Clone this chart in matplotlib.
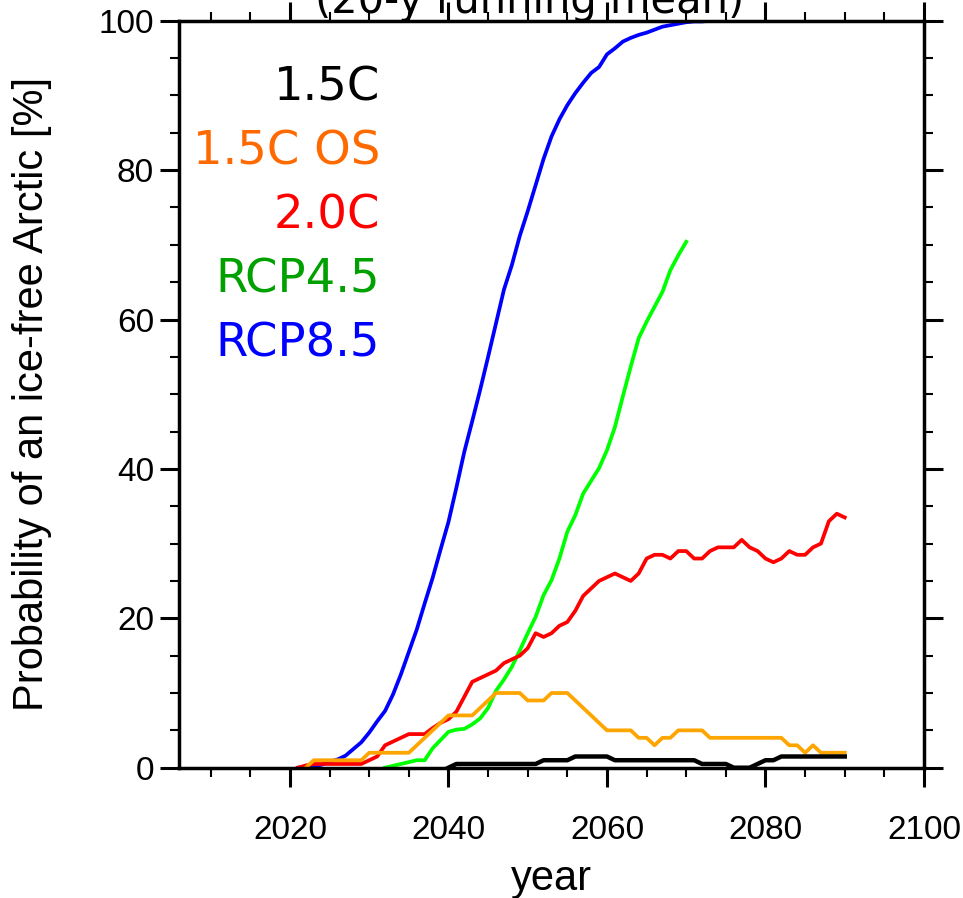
import matplotlib
matplotlib.use("Agg")
import matplotlib.pyplot as plt
import numpy as np
from matplotlib.ticker import MultipleLocator

# probability of an ice-free Arctic (%), 20-y running mean
years_15 = np.arange(2040, 2091)
p_15 = [0, 0.5, 0.5, 0.5, 0.5, 0.5, 0.5, 0.5, 0.5, 0.5, 0.5,
        0.5, 1.0, 1.0, 1.0, 1.0, 1.5, 1.5, 1.5, 1.5, 1.5,
        1.0, 1.0, 1.0, 1.0, 1.0, 1.0, 1.0, 1.0, 1.0, 1.0,
        1.0, 0.5, 0.5, 0.5, 0.5, 0, 0, 0, 0.5, 1.0,
        1.0, 1.5, 1.5, 1.5, 1.5, 1.5, 1.5, 1.5, 1.5, 1.5]

years_os = np.arange(2022, 2091)
p_os = [0, 1, 1, 1, 1, 1, 1, 1, 2, 2,
        2, 2, 2, 2, 3, 4, 5, 6, 7, 7,
        7, 7, 8, 9, 10, 10, 10, 10, 9, 9,
        9, 10, 10, 10, 9, 8, 7, 6, 5, 5,
        5, 5, 4, 4, 3, 4, 4, 5, 5, 5,
        5, 4, 4, 4, 4, 4, 4, 4, 4, 4,
        4, 3, 3, 2, 3, 2, 2, 2, 2]

years_20 = np.arange(2021, 2091)
p_20 = [0, 0.3, 0.5, 0.5, 0.5, 0.5, 0.5, 0.5, 0.5, 1.0,
        1.5, 3.0, 3.5, 4.0, 4.5, 4.5, 4.5, 5.3, 6.0, 6.5,
        7.5, 9.5, 11.5, 12.0, 12.5, 13.0, 14.0, 14.5, 15.0, 16.0,
        18.0, 17.5, 18.0, 19.0, 19.5, 21.0, 23.0, 24.0, 25.0, 25.5,
        26.0, 25.5, 25.0, 26.0, 28.0, 28.5, 28.5, 28.0, 29.0, 29.0,
        28.0, 28.0, 29.0, 29.5, 29.5, 29.5, 30.5, 29.5, 29.0, 28.0,
        27.5, 28.0, 29.0, 28.5, 28.5, 29.5, 30.0, 33.0, 34.0, 33.5]

years_45 = np.arange(2032, 2071)
p_45 = [0, 0.25, 0.5, 0.75, 1.0, 1.0, 2.6, 3.7, 4.8, 5.1,
        5.2, 5.8, 6.6, 8.0, 10.3, 11.8, 13.5, 15.7, 18.0, 20.2,
        23.1, 25.1, 28.0, 31.6, 33.8, 36.7, 38.4, 40.1, 42.5, 45.6,
        49.7, 53.7, 57.5, 59.7, 61.7, 63.7, 66.6, 68.6, 70.4]

years_85 = np.arange(2021, 2091)
p_85 = [0, 0.1, 0.2, 0.4, 0.8, 1.1, 1.6, 2.5, 3.4, 4.7,
        6.2, 7.6, 9.8, 12.5, 15.5, 18.5, 22.0, 25.4, 29.2, 32.9,
        37.5, 42.3, 46.4, 50.6, 55.0, 59.5, 64.0, 67.3, 71.2, 74.5,
        78.0, 81.5, 84.5, 86.8, 88.7, 90.3, 91.7, 93.0, 93.8, 95.5,
        96.3, 97.2, 97.7, 98.1, 98.4, 98.8, 99.2, 99.4, 99.6, 99.8,
        99.9, 99.9, 100, 100, 100, 100, 100, 100, 100, 100,
        100, 100, 100, 100, 100, 100, 100, 100, 100, 100]

labels = ["1.5C", "1.5C OS", "2.0C", "RCP4.5", "RCP8.5"]
label_colors = ["black", "#FF6A00", "red", "#00A000", "blue"]

fig = plt.figure(figsize=(9.63, 8.98), dpi=100)
ax = fig.add_axes([179/963, 1 - 767.7/898, 745/963, 747/898])

lw = 2.7
ax.plot(years_85, p_85, color="blue", lw=lw)
ax.plot(years_45, p_45, color="#00FF00", lw=lw)
ax.plot(years_20, p_20, color="red", lw=lw)
ax.plot(years_os, p_os, color="orange", lw=lw)
ax.plot(years_15, p_15, color="black", lw=lw + 0.5)

ax.set_xlim(2006, 2100)
ax.set_ylim(0, 100)
ax.xaxis.set_major_locator(MultipleLocator(20))
ax.xaxis.set_minor_locator(MultipleLocator(5))
ax.yaxis.set_major_locator(MultipleLocator(20))
ax.yaxis.set_minor_locator(MultipleLocator(5))

ax.tick_params(which="both", direction="out", top=True, right=True)
ax.tick_params(which="major", length=14, width=2.2)
ax.tick_params(axis="x", which="major", pad=20)
ax.tick_params(axis="y", which="major", pad=4)
ax.tick_params(which="minor", length=6.5, width=1.5)
for s in ax.spines.values():
    s.set_linewidth(2.5)

for lab in ax.get_xticklabels() + ax.get_yticklabels():
    lab.set_fontfamily("Liberation Sans")
    lab.set_fontsize(24)

ax.set_xlabel("year", family="Liberation Sans", fontsize=30, va="baseline")
ax.set_ylabel("Probability of an ice-free Arctic [%]", family="Liberation Sans",
              fontsize=30, va="baseline")
ax.xaxis.set_label_coords(0.5, -0.164)
ax.yaxis.set_label_coords(-0.183, 0.5)

# colored legend text
for i, (t, c) in enumerate(zip(labels, label_colors)):
    ax.text(0.2698, 0.893 - i * 0.0857, t, transform=ax.transAxes, color=c,
            fontsize=33.5, family="DejaVu Sans", ha="right", va="baseline")

fig.text(530/963, 1 - 13.5/898, "(20-y running mean)", fontsize=30,
         family="DejaVu Sans", ha="center", va="baseline")

fig.savefig("out.png", dpi=100)
